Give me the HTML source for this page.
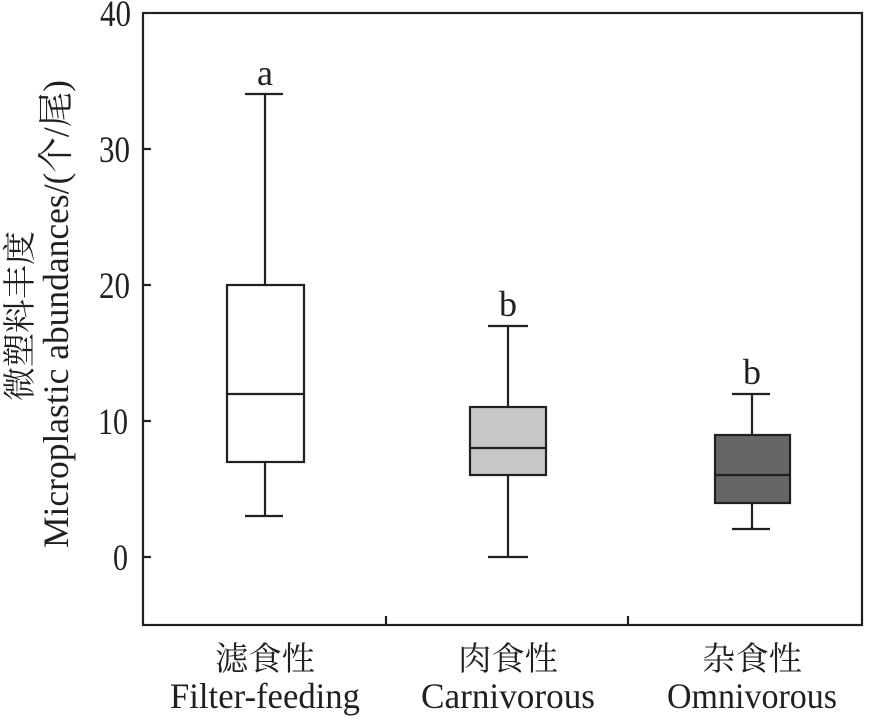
<!DOCTYPE html>
<html><head><meta charset="utf-8"><style>body{margin:0;background:#fff}</style></head>
<body>
<svg width="874" height="717" viewBox="0 0 874 717" xmlns="http://www.w3.org/2000/svg" font-family="'Liberation Serif','Noto Serif CJK SC',serif" fill="#231f20">
<g stroke="#231f20" stroke-width="2.2" fill="none">
<rect x="143" y="13" width="719" height="612"/>
<line x1="143" y1="149" x2="151" y2="149"/>
<line x1="143" y1="285" x2="151" y2="285"/>
<line x1="143" y1="421" x2="151" y2="421"/>
<line x1="143" y1="557" x2="151" y2="557"/>
<line x1="386" y1="625" x2="386" y2="616"/>
<line x1="628" y1="625" x2="628" y2="616"/>
<line x1="265" y1="94" x2="265" y2="285"/><line x1="245" y1="94" x2="283" y2="94"/>
<line x1="265" y1="462" x2="265" y2="516"/><line x1="245" y1="516" x2="283" y2="516"/>
<rect x="227" y="285" width="77" height="177" fill="#fff"/>
<line x1="227" y1="394" x2="304" y2="394"/>
<line x1="508" y1="326" x2="508" y2="407"/><line x1="488" y1="326" x2="528" y2="326"/>
<line x1="508" y1="475" x2="508" y2="557"/><line x1="488" y1="557" x2="528" y2="557"/>
<rect x="470" y="407" width="76" height="68" fill="#c8c8c8"/>
<line x1="470" y1="448" x2="546" y2="448"/>
<line x1="752" y1="394" x2="752" y2="435"/><line x1="732" y1="394" x2="770" y2="394"/>
<line x1="752" y1="503" x2="752" y2="529"/><line x1="732" y1="529" x2="770" y2="529"/>
<rect x="715" y="435" width="75" height="68" fill="#666"/>
<line x1="715" y1="475" x2="790" y2="475"/>
</g>
<g font-size="37" text-anchor="end">
<text x="131" y="26" textLength="31" lengthAdjust="spacingAndGlyphs">40</text>
<text x="130" y="162" textLength="31" lengthAdjust="spacingAndGlyphs">30</text>
<text x="130" y="298" textLength="31" lengthAdjust="spacingAndGlyphs">20</text>
<text x="128" y="434" textLength="30" lengthAdjust="spacingAndGlyphs">10</text>
<text x="128" y="570" textLength="15" lengthAdjust="spacingAndGlyphs">0</text>
</g>
<g font-size="36" text-anchor="middle">
<text x="265" y="85">a</text><text x="508" y="316">b</text><text x="752" y="384">b</text>
<text x="265" y="670" font-size="33" textLength="100" lengthAdjust="spacingAndGlyphs">滤食性</text>
<text x="265" y="708" textLength="190" lengthAdjust="spacingAndGlyphs">Filter-feeding</text>
<text x="508" y="670" font-size="33" textLength="100" lengthAdjust="spacingAndGlyphs">肉食性</text>
<text x="508" y="708" textLength="174" lengthAdjust="spacingAndGlyphs">Carnivorous</text>
<text x="752" y="670" font-size="33" textLength="100" lengthAdjust="spacingAndGlyphs">杂食性</text>
<text x="752" y="708" textLength="170" lengthAdjust="spacingAndGlyphs">Omnivorous</text>
<text transform="translate(31,316) rotate(-90)" font-size="33" textLength="170" lengthAdjust="spacingAndGlyphs">微塑料丰度</text>
<text transform="translate(68,314) rotate(-90)" font-size="36" textLength="468" lengthAdjust="spacingAndGlyphs">Microplastic abundances/(个/尾)</text>
</g>
</svg>
</body></html>
